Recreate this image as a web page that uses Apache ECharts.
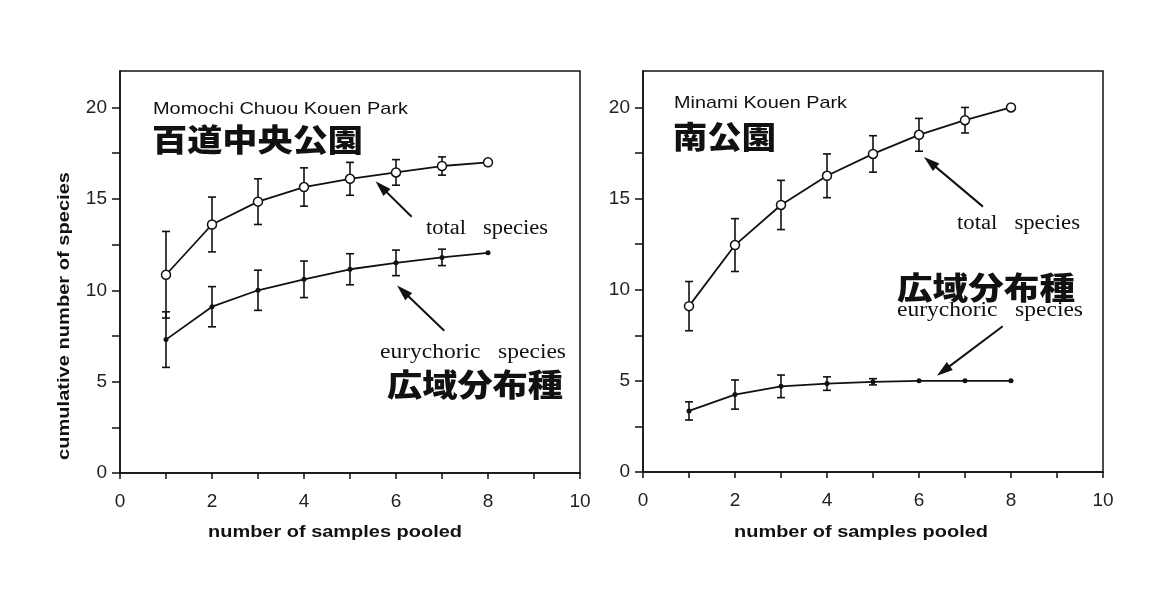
<!DOCTYPE html>
<html>
<head>
<meta charset="utf-8">
<script src="https://cdn.jsdelivr.net/npm/echarts@6/dist/echarts.min.js"></script>
<style>
html,body{margin:0;padding:0;background:#fff;}
#chart{width:1168px;height:601px;}
</style>
</head>
<body>
<div id="chart"></div>
<script>
// ---- data ----
const samples = [1, 2, 3, 4, 5, 6, 7, 8];
const xTickLabels = [0, 2, 4, 6, 8, 10];
const yTickLabels = [0, 5, 10, 15, 20];
const yTicks = [0, 2.5, 5, 7.5, 10, 12.5, 15, 17.5, 20];

const momochiTotal    = [10.85, 13.6, 14.85, 15.65, 16.1, 16.45, 16.8, 17.0];
const momochiTotalErr = [2.37, 1.5, 1.25, 1.05, 0.9, 0.7, 0.5, 0];
const momochiEury     = [7.3, 9.1, 10.0, 10.6, 11.15, 11.5, 11.8, 12.05];
const momochiEuryErr  = [1.52, 1.1, 1.1, 1.0, 0.85, 0.7, 0.45, 0];

const minamiTotal     = [9.1, 12.45, 14.65, 16.25, 17.45, 18.5, 19.3, 20.0];
const minamiTotalErr  = [1.35, 1.45, 1.35, 1.2, 1.0, 0.9, 0.7, 0];
const minamiEury      = [3.35, 4.25, 4.7, 4.85, 4.95, 5.0, 5.0, 5.0];
const minamiEuryErr   = [0.5, 0.8, 0.62, 0.37, 0.17, 0, 0, 0];

// annotation arrows (data coords: [tail, head])
const momochiTotalArrow = [[6.34, 14.02], [5.68, 15.66]];
const momochiEuryArrow  = [[7.05, 7.79], [6.15, 9.96]];
const minamiTotalArrow  = [[7.39, 14.56], [6.24, 17.0]];
const minamiEuryArrow   = [[7.82, 8.0], [6.53, 5.55]];

// ---- styles ----
const INK = '#111';
const SANS = '"Liberation Sans", Arial, Helvetica, sans-serif';
const SERIF = '"Liberation Serif", "Times New Roman", serif';
const CJK = '"Noto Sans CJK JP", "Noto Sans CJK SC", sans-serif';

function pairs(v) { return samples.map((x, i) => [x, v[i]]); }
function triples(v, e) { return samples.map((x, i) => [x, v[i], e[i]]); }

function errRender(params, api) {
  const x = api.value(0), y = api.value(1), e = api.value(2);
  if (!e) return null;
  const t = api.coord([x, y + e]);
  const b = api.coord([x, y - e]);
  const w = 4;
  const st = { stroke: INK, lineWidth: 1.6 };
  return {
    type: 'group',
    children: [
      { type: 'line', shape: { x1: t[0], y1: t[1], x2: b[0], y2: b[1] }, style: st },
      { type: 'line', shape: { x1: t[0] - w, y1: t[1], x2: t[0] + w, y2: t[1] }, style: st },
      { type: 'line', shape: { x1: b[0] - w, y1: b[1], x2: b[0] + w, y2: b[1] }, style: st }
    ]
  };
}

function arrow(a) {
  return {
    silent: true,
    symbol: ['none', 'triangle'],
    symbolSize: [10, 16],
    lineStyle: { color: INK, width: 2, type: 'solid' },
    label: { show: false },
    emphasis: { disabled: true },
    data: [[{ coord: a[0] }, { coord: a[1] }]]
  };
}

function xAxis(gi) {
  return {
    gridIndex: gi, type: 'value', min: 0, max: 10, interval: 1,
    axisLine: { show: true, onZero: false, lineStyle: { color: INK, width: 1.5 } },
    axisTick: { show: true, inside: false, length: 6, lineStyle: { color: INK, width: 1.5 } },
    axisLabel: { customValues: xTickLabels, fontSize: 19, fontFamily: SANS, color: '#222', margin: 19 },
    splitLine: { show: false }
  };
}
function yAxis(gi) {
  return {
    gridIndex: gi, type: 'value', min: 0, max: 22,
    axisLine: { show: true, onZero: false, lineStyle: { color: INK, width: 1.5 } },
    axisTick: { show: true, inside: false, length: 8, customValues: yTicks, lineStyle: { color: INK, width: 1.5 } },
    axisLabel: { customValues: yTickLabels, fontSize: 19, fontFamily: SANS, color: '#222', margin: 13 },
    splitLine: { show: false }
  };
}

function lineSeries(gi, vals, open, arr) {
  return {
    type: 'line', xAxisIndex: gi, yAxisIndex: gi, data: pairs(vals),
    symbol: 'circle', symbolSize: open ? 9 : 5,
    itemStyle: { color: open ? '#fff' : INK, borderColor: INK, borderWidth: open ? 1.5 : 0 },
    lineStyle: { color: INK, width: 1.8 },
    z: 5, silent: true,
    markLine: arrow(arr)
  };
}
function errSeries(gi, vals, errs) {
  return {
    type: 'custom', xAxisIndex: gi, yAxisIndex: gi, data: triples(vals, errs),
    renderItem: errRender, z: 3, silent: true
  };
}

// text helper: stretch horizontally so the text spans the width seen in the reference
const mctx = document.createElement('canvas').getContext('2d');
function txt(x, y, text, font, size, weight, width, opts) {
  opts = opts || {};
  mctx.font = (weight || 'normal') + ' ' + size + 'px ' + font;
  const w = mctx.measureText(text).width;
  const sx = width ? width / w : 1;
  return {
    type: 'text', x: x, y: y, silent: true,
    rotation: opts.rotation || 0,
    scaleX: sx,
    style: { text: text, fontFamily: font, fontSize: size, fontWeight: weight || 'normal',
             fill: '#111', align: opts.align || 'left', verticalAlign: 'middle' }
  };
}

const chart = echarts.init(document.getElementById('chart'), null, { renderer: 'canvas' });
chart.setOption({
  animation: false,
  backgroundColor: '#fff',
  grid: [
    { left: 120, top: 71, width: 460, height: 402, show: true, borderColor: INK, borderWidth: 1.5, backgroundColor: 'transparent' },
    { left: 643, top: 71, width: 460, height: 401, show: true, borderColor: INK, borderWidth: 1.5, backgroundColor: 'transparent' }
  ],
  xAxis: [xAxis(0), xAxis(1)],
  yAxis: [yAxis(0), yAxis(1)],
  series: [
    errSeries(0, momochiTotal, momochiTotalErr),
    errSeries(0, momochiEury, momochiEuryErr),
    lineSeries(0, momochiTotal, true, momochiTotalArrow),
    lineSeries(0, momochiEury, false, momochiEuryArrow),
    errSeries(1, minamiTotal, minamiTotalErr),
    errSeries(1, minamiEury, minamiEuryErr),
    lineSeries(1, minamiTotal, true, minamiTotalArrow),
    lineSeries(1, minamiEury, false, minamiEuryArrow)
  ],
  graphic: [
    txt(64, 316, 'cumulative number of species', SANS, 17, 'bold', 288, { rotation: Math.PI / 2, align: 'center' }),
    txt(335, 532, 'number of samples pooled', SANS, 17, 'bold', 254, { align: 'center' }),
    txt(861, 532, 'number of samples pooled', SANS, 17, 'bold', 254, { align: 'center' }),

    txt(153, 109, 'Momochi Chuou Kouen Park', SANS, 17, 'normal', 255),
    txt(152, 139, '百道中央公園', CJK, 31, 900, 211),
    txt(426, 229, 'total   species', SERIF, 20, 'normal', 122),
    txt(380, 353, 'eurychoric   species', SERIF, 20, 'normal', 186),
    txt(387, 384, '広域分布種', CJK, 31, 900, 176),

    txt(674, 103, 'Minami Kouen Park', SANS, 17, 'normal', 173),
    txt(673, 136, '南公園', CJK, 31, 900, 103),
    txt(957, 224, 'total   species', SERIF, 20, 'normal', 123),
    txt(897, 287, '広域分布種', CJK, 31, 900, 178),
    txt(897, 311, 'eurychoric   species', SERIF, 20, 'normal', 186)
  ]
});
</script>
</body>
</html>
